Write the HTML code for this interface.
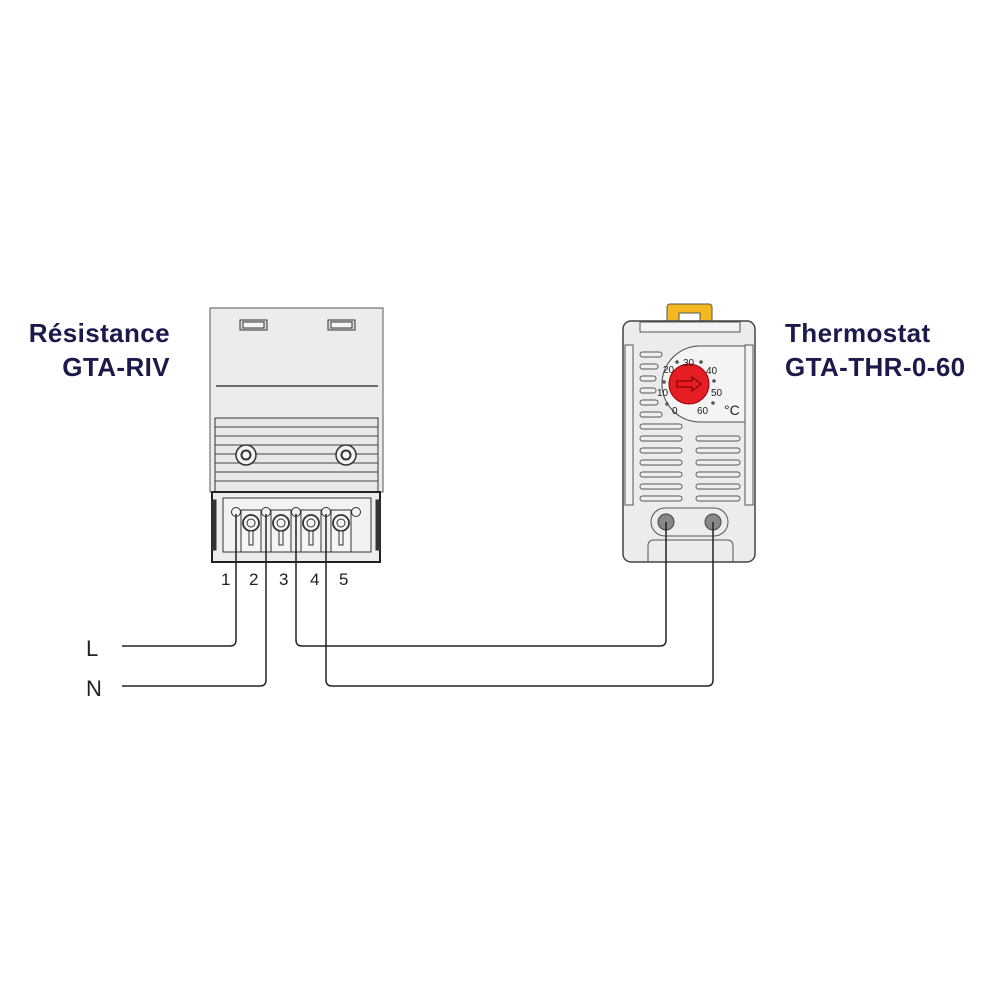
<!DOCTYPE html>
<html><head><style>body{margin:0;background:#fff}svg{display:block}</style></head><body>
<svg width="1000" height="1000" viewBox="0 0 1000 1000" xmlns="http://www.w3.org/2000/svg" font-family="Liberation Sans, sans-serif">
<rect width="1000" height="1000" fill="#fff"/>
<g font-weight="bold" font-size="26" fill="#1c1a4a" letter-spacing="0.4">
<text x="170" y="342" text-anchor="end">Résistance</text>
<text x="170" y="376" text-anchor="end">GTA-RIV</text>
<text x="785" y="342">Thermostat</text>
<text x="785" y="376">GTA-THR-0-60</text>
</g>
<!-- Resistance -->
<g stroke="#333" stroke-width="1" fill="none">
<rect x="210" y="308" width="173" height="184" fill="#ececec" stroke="#555"/>
<line x1="216" y1="386" x2="378" y2="386" stroke="#444" stroke-width="1.5"/>
<rect x="240" y="320" width="27" height="10" fill="#ddd"/><rect x="243" y="322" width="21" height="6" fill="#f5f5f5"/>
<rect x="328" y="320" width="27" height="10" fill="#ddd"/><rect x="331" y="322" width="21" height="6" fill="#f5f5f5"/>
<rect x="215" y="418" width="163" height="74" fill="#e8e8e8"/>
<g stroke="#444">
<line x1="215" y1="427" x2="378" y2="427"/><line x1="215" y1="436" x2="378" y2="436"/><line x1="215" y1="445" x2="378" y2="445"/><line x1="215" y1="454" x2="378" y2="454"/><line x1="215" y1="463" x2="378" y2="463"/><line x1="215" y1="472" x2="378" y2="472"/><line x1="215" y1="481" x2="378" y2="481"/>
</g>
<circle cx="246" cy="455" r="10" fill="#f3f3f3" stroke-width="1.5"/><circle cx="246" cy="455" r="4.5" stroke-width="2"/>
<circle cx="346" cy="455" r="10" fill="#f3f3f3" stroke-width="1.5"/><circle cx="346" cy="455" r="4.5" stroke-width="2"/>
<rect x="212" y="492" width="168" height="70" fill="#ececec" stroke="#222" stroke-width="2"/>
<rect x="212" y="500" width="4" height="50" fill="#333"/><rect x="376" y="500" width="4" height="50" fill="#333"/>
<path d="M223 498 H371 V552 H223 Z" fill="#f2f2f2" stroke="#333"/>
<g fill="#f5f5f5">
<circle cx="236" cy="512" r="4.5"/><circle cx="266" cy="512" r="4.5"/><circle cx="296" cy="512" r="4.5"/><circle cx="326" cy="512" r="4.5"/><circle cx="356" cy="512" r="4.5"/>
<rect x="241" y="510" width="20" height="42"/><rect x="271" y="510" width="20" height="42"/><rect x="301" y="510" width="20" height="42"/><rect x="331" y="510" width="20" height="42"/>
<circle cx="251" cy="523" r="8" stroke-width="1.8"/><circle cx="281" cy="523" r="8" stroke-width="1.8"/><circle cx="311" cy="523" r="8" stroke-width="1.8"/><circle cx="341" cy="523" r="8" stroke-width="1.8"/>
<circle cx="251" cy="523" r="4"/><circle cx="281" cy="523" r="4"/><circle cx="311" cy="523" r="4"/><circle cx="341" cy="523" r="4"/>
<rect x="249" y="531" width="4" height="14"/><rect x="279" y="531" width="4" height="14"/><rect x="309" y="531" width="4" height="14"/><rect x="339" y="531" width="4" height="14"/>
</g>
</g>
<g font-size="17" fill="#222"><text x="221" y="585">1</text><text x="249" y="585">2</text><text x="279" y="585">3</text><text x="310" y="585">4</text><text x="339" y="585">5</text></g>
<!-- Thermostat -->
<rect x="667" y="304" width="45" height="22" rx="3" fill="#f5b820" stroke="#555"/>
<rect x="679" y="313" width="21" height="13" fill="#fff" stroke="#555"/>
<rect x="623" y="321" width="132" height="241" rx="8" fill="#ececec" stroke="#444" stroke-width="1.5"/>
<g stroke="#555" fill="#f3f3f3">
<rect x="640" y="322" width="100" height="10"/>
<rect x="625" y="345" width="8" height="160"/><rect x="745" y="345" width="8" height="160"/>
<path d="M700 346 A38 38 0 0 0 700 422 L745 422 L745 346 Z" fill="#f4f4f4"/>
<path d="M700 346 A38 38 0 0 0 700 422" fill="none"/>
</g>
<g stroke="#555" fill="#efefef">
<rect x="640" y="352" width="22" height="5" rx="2.5"/><rect x="640" y="364" width="18" height="5" rx="2.5"/><rect x="640" y="376" width="16" height="5" rx="2.5"/><rect x="640" y="388" width="16" height="5" rx="2.5"/><rect x="640" y="400" width="18" height="5" rx="2.5"/><rect x="640" y="412" width="22" height="5" rx="2.5"/>
<rect x="640" y="424" width="42" height="5" rx="2.5"/><rect x="640" y="436" width="42" height="5" rx="2.5"/><rect x="640" y="448" width="42" height="5" rx="2.5"/><rect x="640" y="460" width="42" height="5" rx="2.5"/><rect x="640" y="472" width="42" height="5" rx="2.5"/><rect x="640" y="484" width="42" height="5" rx="2.5"/><rect x="640" y="496" width="42" height="5" rx="2.5"/>
<rect x="696" y="436" width="44" height="5" rx="2.5"/><rect x="696" y="448" width="44" height="5" rx="2.5"/><rect x="696" y="460" width="44" height="5" rx="2.5"/><rect x="696" y="472" width="44" height="5" rx="2.5"/><rect x="696" y="484" width="44" height="5" rx="2.5"/><rect x="696" y="496" width="44" height="5" rx="2.5"/>
<rect x="651" y="508" width="77" height="28" rx="14" fill="#ececec"/>
<path d="M648 562 V546 Q648 540 654 540 H727 Q733 540 733 546 V562" fill="none"/>
</g>
<circle cx="666" cy="522" r="8" fill="#888" stroke="#444"/>
<circle cx="713" cy="522" r="8" fill="#888" stroke="#444"/>
<circle cx="689" cy="384" r="20" fill="#e61d25" stroke="#900"/>
<path d="M677 381 H692 V377 L701 384 L692 391 V387 H677 Z" fill="none" stroke="#600" stroke-width="1"/>
<g fill="#555"><circle cx="677" cy="362" r="1.8"/><circle cx="701" cy="362" r="1.8"/><circle cx="714" cy="381" r="1.8"/><circle cx="713" cy="403" r="1.8"/><circle cx="664" cy="382" r="1.8"/><circle cx="667" cy="404" r="1.8"/></g>
<g font-size="10" fill="#222"><text x="683" y="366">30</text><text x="663" y="373">20</text><text x="706" y="374">40</text><text x="657" y="396">10</text><text x="711" y="396">50</text><text x="672" y="414">0</text><text x="697" y="414">60</text><text x="724" y="415" font-size="14">°C</text></g>
<!-- wires -->
<g stroke="#222" stroke-width="1.5" fill="none">
<path d="M236 514 V640 Q236 646 230 646 H122"/>
<path d="M266 514 V680 Q266 686 260 686 H122"/>
<path d="M296 514 V640 Q296 646 302 646 H660 Q666 646 666 640 V522"/>
<path d="M326 514 V680 Q326 686 332 686 H707 Q713 686 713 680 V522"/>
</g>
<g font-size="22" fill="#222"><text x="86" y="656">L</text><text x="86" y="696">N</text></g>
</svg>
</body></html>
